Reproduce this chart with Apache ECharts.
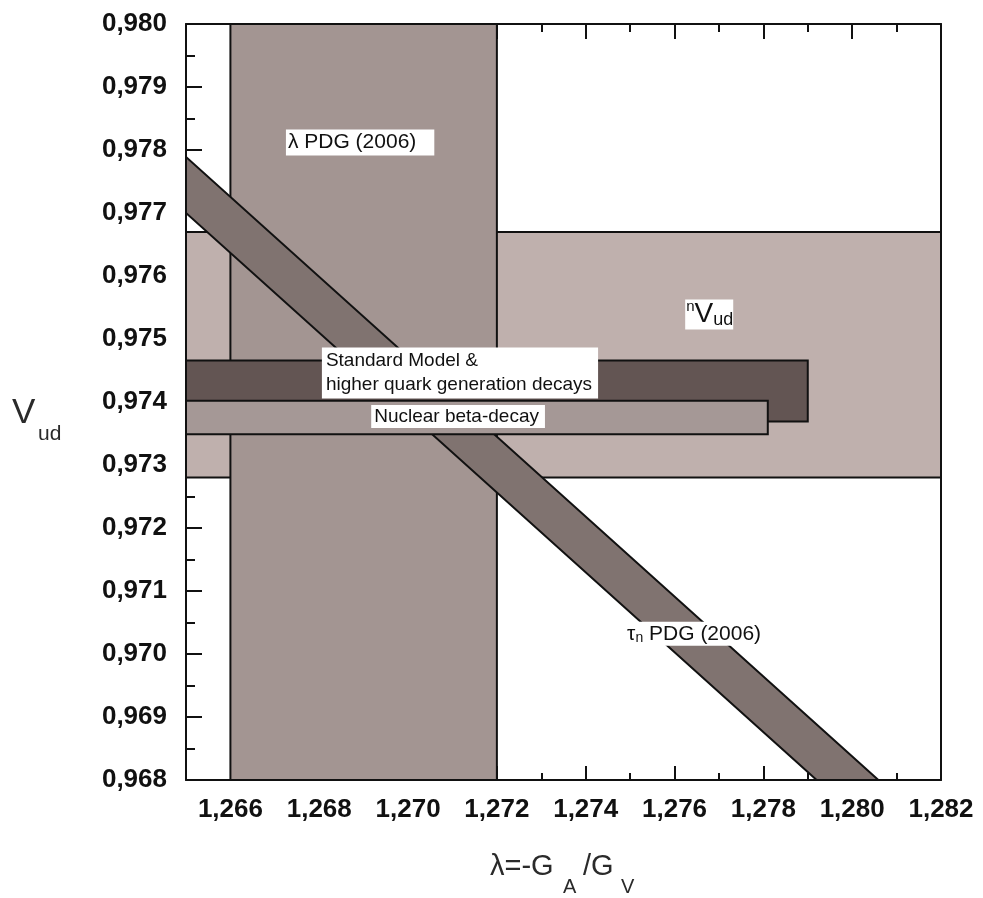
<!DOCTYPE html>
<html>
<head>
<meta charset="utf-8">
<script src="https://cdn.jsdelivr.net/npm/echarts@6/dist/echarts.min.js"></script>
<style>html,body{margin:0;padding:0;background:#fff;}#main{width:983px;height:898px;}</style>
</head>
<body>
<div id="main"></div>
<script>
// ---- axis ranges & ticks ----
const xRange = [1.265, 1.282];
const yRange = [0.968, 0.980];
const xMajorTicks = [1.266, 1.268, 1.270, 1.272, 1.274, 1.276, 1.278, 1.280, 1.282];
const xMinorTicks = [1.265, 1.267, 1.269, 1.271, 1.273, 1.275, 1.277, 1.279, 1.281];

// ---- data (lambda, Vud) ----
const lambdaPDG = [1.266, 1.272];            // λ PDG (2006) band in λ
const nVudBand = [0.9728, 0.9767];           // nVud band in Vud
const smLambda = [1.265, 1.2790];            // Standard Model & higher quark generation decays
const smVud = [0.97369, 0.97466];
const nuclearLambda = [1.265, 1.2781];       // Nuclear beta-decay
const nuclearVud = [0.97349, 0.97402];
const tauUpper = [[1.265, 0.97789], [1.28059, 0.968]];   // τn PDG (2006) band edges
const tauLower = [[1.265, 0.97700], [1.27920, 0.968]];

// label anchors (λ, Vud) and texts
const labelPoints = [
  [1.26725, 0.97812],
  [1.26806, 0.97446],
  [1.26917, 0.97377],
  [1.27624, 0.97539],
  [1.27491, 0.97032]
];
const labelTexts = [
  'λ PDG (2006)',
  'Standard Model &\nhigher quark generation decays',
  'Nuclear beta-decay',
  '{sup|n}{big|V}{sub|ud}',
  '{t|τ}{s|n}{t| PDG (2006)}'
];

const FONT = "'Liberation Sans', Arial, sans-serif";
const colors = {
  nvud: '#bfb0ad',
  lambda: '#a39592',
  tau: '#807370',
  sm: '#635553',
  nuclear: '#a59896'
};

function fmt(v) { return v.toFixed(3).replace('.', ','); }

function rectSeries(name, xs, ys, fill, z) {
  return {
    type: 'custom', name: name, z: z, clip: true,
    xAxisIndex: 0, yAxisIndex: 0,
    encode: { x: [0, 1], y: [2, 3] },
    data: [[xs[0], xs[1], ys[0], ys[1]]],
    renderItem: function (params, api) {
      const a = api.coord([api.value(0), api.value(3)]);
      const b = api.coord([api.value(1), api.value(2)]);
      return {
        type: 'rect',
        shape: { x: a[0], y: a[1], width: b[0] - a[0], height: b[1] - a[1] },
        style: { fill: fill, stroke: '#111', lineWidth: 2 }
      };
    }
  };
}

const tauSeries = {
  type: 'custom', name: 'tau', z: 3, clip: true,
  encode: { x: [0, 2, 4, 6], y: [1, 3, 5, 7] },
  data: [[tauUpper[0][0], tauUpper[0][1], tauUpper[1][0], tauUpper[1][1],
          tauLower[1][0], tauLower[1][1], tauLower[0][0], tauLower[0][1]]],
  renderItem: function (params, api) {
    const pts = [];
    for (let i = 0; i < 4; i++) pts.push(api.coord([api.value(2 * i), api.value(2 * i + 1)]));
    return { type: 'polygon', shape: { points: pts }, style: { fill: colors.tau, stroke: '#111', lineWidth: 2 } };
  }
};

const labelStyles = [
  { fontSize: 21, padding: [3, 18, 2, 2] },
  { fontSize: 19, lineHeight: 24, padding: [2, 6, 1, 4] },
  { fontSize: 19, padding: [2, 6, 2, 3] },
  { fontSize: 26, padding: [0, 0, 0, 1],
    rich: {
      sup: { fontSize: 15, verticalAlign: 'top', lineHeight: 15, fontFamily: FONT, fill: '#111' },
      big: { fontSize: 28, lineHeight: 30, fontFamily: FONT, fill: '#111' },
      sub: { fontSize: 18, verticalAlign: 'bottom', lineHeight: 16, fontFamily: FONT, fill: '#111' }
    } },
  { fontSize: 21, padding: [1, 8, 1, 1],
    rich: {
      t: { fontSize: 21, lineHeight: 22, fontFamily: FONT, fill: '#111' },
      s: { fontSize: 14, verticalAlign: 'bottom', lineHeight: 14, fontFamily: FONT, fill: '#111' }
    } }
];

const labelSeries = {
  type: 'custom', name: 'labels', z: 10,
  encode: { x: 0, y: 1 },
  data: labelPoints,
  renderItem: function (params, api) {
    const p = api.coord([api.value(0), api.value(1)]);
    const s = labelStyles[params.dataIndex];
    const style = {
      text: labelTexts[params.dataIndex],
      fontSize: s.fontSize, fontFamily: FONT, fill: '#111',
      backgroundColor: '#fff', padding: s.padding,
      align: 'left', verticalAlign: 'middle'
    };
    if (s.lineHeight) style.lineHeight = s.lineHeight;
    if (s.rich) style.rich = s.rich;
    return { type: 'text', x: p[0], y: p[1], style: style };
  }
};

const tickLine = { color: '#111', width: 2 };
const chart = echarts.init(document.getElementById('main'));
chart.setOption({
  animation: false,
  backgroundColor: '#fff',
  grid: { left: 186, right: 42, top: 24, bottom: 118 },
  xAxis: [
    { type: 'value', position: 'bottom', min: xRange[0], max: xRange[1],
      axisLine: { show: true, onZero: false, lineStyle: tickLine },
      axisTick: { show: true, inside: true, length: 14, lineStyle: tickLine, customValues: xMajorTicks },
      axisLabel: { show: true, customValues: xMajorTicks, formatter: fmt, margin: 17,
                   fontSize: 26, fontWeight: 'bold', color: '#111', fontFamily: FONT },
      splitLine: { show: false } },
    { type: 'value', position: 'bottom', min: xRange[0], max: xRange[1],
      axisLine: { show: false, onZero: false },
      axisTick: { show: true, inside: true, length: 7, lineStyle: tickLine, customValues: xMinorTicks },
      axisLabel: { show: false }, splitLine: { show: false } },
    { type: 'value', position: 'top', min: xRange[0], max: xRange[1],
      axisLine: { show: true, onZero: false, lineStyle: tickLine },
      axisTick: { show: true, inside: true, length: 15, lineStyle: tickLine, customValues: xMajorTicks },
      axisLabel: { show: false }, splitLine: { show: false } },
    { type: 'value', position: 'top', min: xRange[0], max: xRange[1],
      axisLine: { show: false, onZero: false },
      axisTick: { show: true, inside: true, length: 8, lineStyle: tickLine, customValues: xMinorTicks },
      axisLabel: { show: false }, splitLine: { show: false } }
  ],
  yAxis: [
    { type: 'value', position: 'left', min: yRange[0], max: yRange[1], interval: 0.001,
      axisLine: { show: true, onZero: false, lineStyle: tickLine },
      axisTick: { show: true, inside: true, length: 16, lineStyle: tickLine },
      minorTick: { show: true, splitNumber: 2, length: 9, lineStyle: tickLine },
      axisLabel: { formatter: fmt, margin: 19, fontSize: 26, fontWeight: 'bold', color: '#111', fontFamily: FONT },
      splitLine: { show: false }, minorSplitLine: { show: false } },
    { type: 'value', position: 'right', min: yRange[0], max: yRange[1],
      axisLine: { show: true, onZero: false, lineStyle: tickLine },
      axisTick: { show: false }, axisLabel: { show: false }, splitLine: { show: false } }
  ],
  graphic: [
    { type: 'text', x: 490, y: 881, z: 20, style: { text: 'λ=-G', fontSize: 29, fontFamily: FONT, fill: '#2a2a2a', align: 'left', verticalAlign: 'bottom' } },
    { type: 'text', x: 563, y: 897, z: 20, style: { text: 'A', fontSize: 20, fontFamily: FONT, fill: '#2a2a2a', align: 'left', verticalAlign: 'bottom' } },
    { type: 'text', x: 583, y: 881, z: 20, style: { text: '/G', fontSize: 29, fontFamily: FONT, fill: '#2a2a2a', align: 'left', verticalAlign: 'bottom' } },
    { type: 'text', x: 621, y: 897, z: 20, style: { text: 'V', fontSize: 20, fontFamily: FONT, fill: '#2a2a2a', align: 'left', verticalAlign: 'bottom' } },
    { type: 'text', x: 12, y: 431, z: 20, style: { text: 'V', fontSize: 35, fontFamily: FONT, fill: '#2a2a2a', align: 'left', verticalAlign: 'bottom' } },
    { type: 'text', x: 38, y: 445, z: 20, style: { text: 'ud', fontSize: 21, fontFamily: FONT, fill: '#2a2a2a', align: 'left', verticalAlign: 'bottom' } }
  ],
  series: [
    rectSeries('nVud', xRange, nVudBand, colors.nvud, 1),
    rectSeries('lambda', lambdaPDG, yRange, colors.lambda, 2),
    tauSeries,
    rectSeries('sm', smLambda, smVud, colors.sm, 4),
    rectSeries('nuclear', nuclearLambda, nuclearVud, colors.nuclear, 5),
    labelSeries
  ]
});
</script>
</body>
</html>
